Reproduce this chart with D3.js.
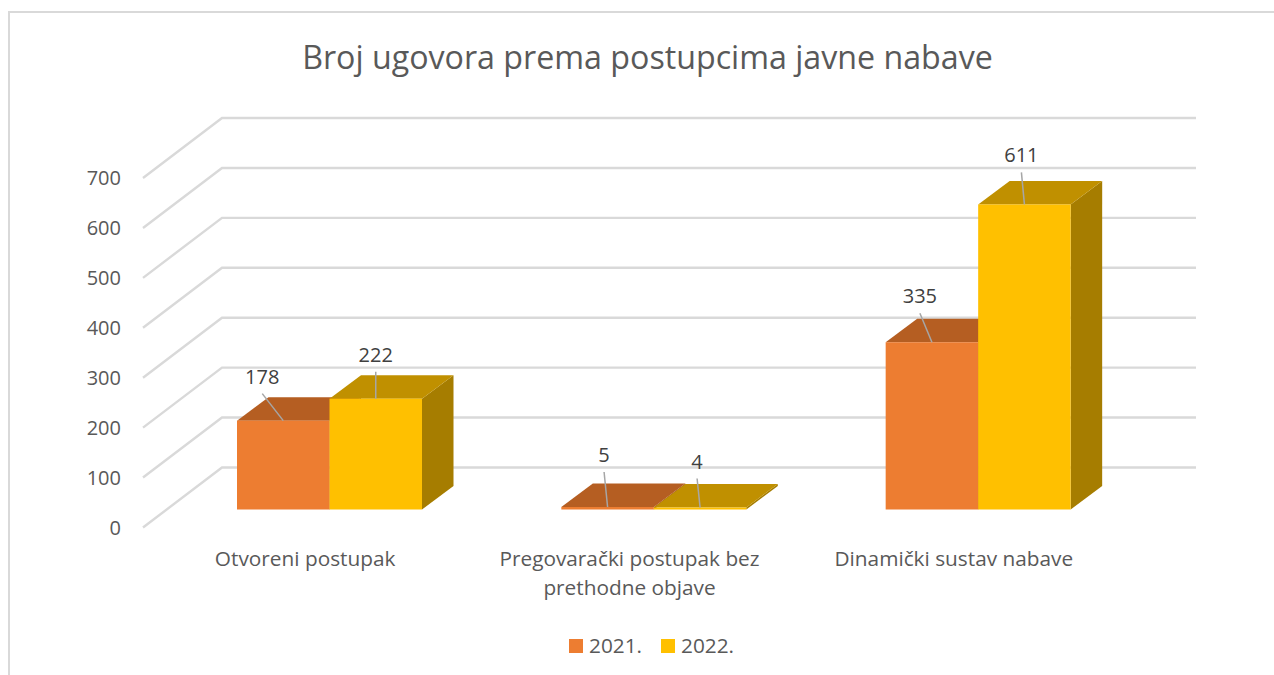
<!DOCTYPE html>
<html><head><meta charset="utf-8">
<style>html,body{margin:0;padding:0;background:#fff;overflow:hidden}svg{display:block}text{font-family:"Open Sans",sans-serif}</style>
<script src="https://cdnjs.cloudflare.com/ajax/libs/d3/7.8.5/d3.min.js"></script>
</head><body><svg id="c" width="1274" height="675"></svg>
<script>
const title = "Broj ugovora prema postupcima javne nabave";
const categories = ["Otvoreni postupak", "Pregovarački postupak bez prethodne objave", "Dinamički sustav nabave"];
const categoryLines = [["Otvoreni postupak"], ["Pregovarački postupak bez", "prethodne objave"], ["Dinamički sustav nabave"]];
const seriesNames = ["2021.", "2022."];
const values2021 = [178, 5, 335];
const values2022 = [222, 4, 611];
const yTicks = [0, 100, 200, 300, 400, 500, 600, 700];
const frontColors = ["#ED7D31", "#FFC000"];
const topColors = ["#B55E22", "#C09000"];
const sideColors = ["#A35520", "#A67D00"];
// leader-line start, relative to the bar's front-top centre: [dx, dy]
const leaderOffsets = [[[-21, -27], [0, -27]], [[-3.5, -35], [-3, -29]], [[-12, -29], [-3, -32]]];

const svg = d3.select("#c");
const wall = {left: 143, right: 1117, y0: 527.5, y700: 178, dx: 79, dy: -60};
const barDepth = {dx: 31.5, dy: -23.5, shiftY: -18};

const x0 = d3.scaleBand().domain(categories).range([wall.left, wall.right - 1]);
const x1 = d3.scaleBand().domain(seriesNames).range([94, 94 + 185]);
const y = d3.scaleLinear().domain([0, 700]).range([wall.y0, wall.y700]);

const line = (pts) => d3.line()(pts);

svg.append("path").attr("d", line([[9, 675], [9, 12], [1274, 12]]))
  .attr("fill", "none").attr("stroke", "#D9D9D9").attr("stroke-width", 2);

svg.append("text").attr("x", 647.5).attr("y", 69).attr("text-anchor", "middle")
  .attr("font-size", 32.2).attr("fill", "#595959").text(title);

const grid = svg.append("g");
yTicks.forEach(t => {
  const yy = y(t);
  grid.append("path")
    .attr("d", line([[wall.left, yy], [wall.left + wall.dx, yy + wall.dy], [wall.right + wall.dx, yy + wall.dy]]))
    .attr("fill", "none").attr("stroke", "#D9D9D9").attr("stroke-width", 2.4);
  grid.append("text").attr("x", 121).attr("y", yy + 7).attr("text-anchor", "end")
    .attr("font-size", 20).attr("fill", "#595959").text(t);
});

const rows = [values2021, values2022];
const marks = svg.append("g");
const labels = svg.append("g");
const base = y(0) + barDepth.shiftY;
const hScale = v => y(0) - y(v);

categories.forEach((cat, ci) => {
  seriesNames.forEach((s, si) => {
    const v = rows[si][ci];
    const xl = x0(cat) + x1(s), xr = xl + x1.bandwidth();
    const yt = base - hScale(v);
    const d = barDepth;
    marks.append("path").attr("fill", sideColors[si])
      .attr("d", line([[xr, base], [xr + d.dx, base + d.dy], [xr + d.dx, yt + d.dy], [xr, yt]]) + "Z");
    marks.append("path").attr("fill", topColors[si])
      .attr("d", line([[xl, yt], [xl + d.dx, yt + d.dy], [xr + d.dx, yt + d.dy], [xr, yt]]) + "Z");
    marks.append("rect").attr("x", xl).attr("y", yt).attr("width", x1.bandwidth()).attr("height", Math.max(hScale(v), 1.5))
      .attr("fill", frontColors[si]);
    const cx = (xl + xr) / 2;
    const [ox, oy] = leaderOffsets[ci][si];
    labels.append("line").attr("x1", cx + ox).attr("y1", yt + oy).attr("x2", cx).attr("y2", yt)
      .attr("stroke", "#A6A6A6").attr("stroke-width", 1.5);
    labels.append("text").attr("x", cx + ox).attr("y", yt + oy - 10).attr("text-anchor", "middle")
      .attr("font-size", 20).attr("fill", "#404040").text(v);
  });
});

categories.forEach((cat, ci) => {
  const cx = x0(cat) + x0.bandwidth() / 2;
  categoryLines[ci].forEach((t, li) => {
    svg.append("text").attr("x", cx).attr("y", 566 + li * 29).attr("text-anchor", "middle")
      .attr("font-size", 20.8).attr("fill", "#595959").text(t);
  });
});

const legendX = [569, 661];
seriesNames.forEach((s, i) => {
  svg.append("rect").attr("x", legendX[i]).attr("y", 639).attr("width", 14).attr("height", 14).attr("fill", frontColors[i]);
  svg.append("text").attr("x", legendX[i] + 20).attr("y", 653).attr("font-size", 20.8).attr("fill", "#595959").text(s);
});
</script></body></html>
